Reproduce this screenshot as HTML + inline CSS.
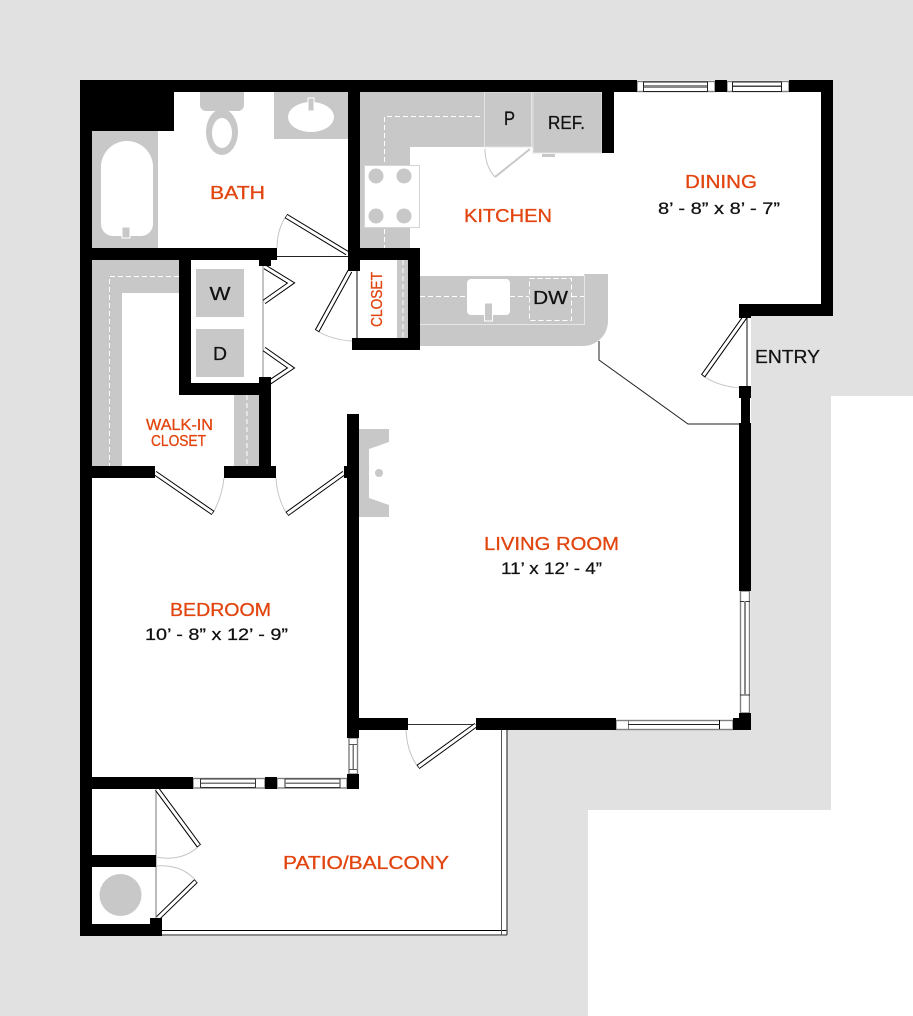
<!DOCTYPE html>
<html><head><meta charset="utf-8"><style>
html,body{margin:0;padding:0;background:#fff}
svg{display:block}
text{font-family:"Liberation Sans",sans-serif}
.o{fill:#e2450f;stroke:#e2450f;stroke-width:.3px;font-size:18px}
.b{fill:#111;stroke:#111;stroke-width:.25px;font-size:17px}
.k{fill:#000}
.g{fill:#c8c8c8}
.dash{stroke:#fff;stroke-width:1;stroke-dasharray:5 3;fill:none}
.arc{stroke:#c4c4c4;stroke-width:1;fill:none}
.db{stroke:#000;stroke-width:5}
.dw{stroke:#fff;stroke-width:3}
.win{fill:#fff;stroke:#808080;stroke-width:1.4}
</style></head><body>
<svg xmlns="http://www.w3.org/2000/svg" width="913" height="1016" viewBox="0 0 913 1016">
<rect width="913" height="1016" fill="#e1e1e1"/>
<rect x="831" y="396" width="82" height="414" fill="#fff"/>
<rect x="588" y="810" width="325" height="206" fill="#fff"/>
<!-- interior -->
<polygon fill="#fff" points="80,80 833,80 833,316 751,316 751,730 507,730 507,936 80,936"/>

<!-- bath fixtures -->
<rect class="g" x="92" y="131" width="66" height="117"/>
<path fill="#fff" d="M101,167a26,26 0 0 1 52,0v57a12,12 0 0 1 -12,12h-28a12,12 0 0 1 -12,-12z"/>
<rect x="122" y="227" width="8" height="11" fill="#c8c8c8" stroke="#fff"/>
<path class="g" d="M200,92h44v13a6,6 0 0 1 -6,6h-32a6,6 0 0 1 -6,-6z"/>
<ellipse class="g" cx="222" cy="132" rx="16" ry="23"/>
<ellipse cx="222" cy="133" rx="10" ry="15" fill="#fff"/>
<rect class="g" x="274" y="92" width="74" height="47"/>
<ellipse cx="311" cy="117" rx="23" ry="15" fill="#fff"/>
<rect x="308" y="98" width="6" height="13" fill="#c8c8c8" stroke="#fff"/>

<!-- kitchen -->
<polygon class="g" points="360,92 602,92 602,147 410,147 410,248 360,248"/>
<path class="dash" d="M480,116.5H384.5V248"/>
<rect class="g" x="484.5" y="92" width="47" height="55" stroke="#e4e4e4"/>
<rect class="g" x="533" y="92" width="69" height="61" stroke="#e4e4e4"/>
<rect x="542" y="154" width="13" height="3" fill="#c8c8c8"/>
<line x1="530" y1="149" x2="495" y2="177" stroke="#c8c8c8" stroke-width="2"/>
<path class="arc" d="M485,149Q485,166 495,177"/>
<rect x="364.500" y="165.500" width="55" height="62" fill="#fff" stroke="#d5d5d5"/>
<g class="g"><circle cx="376" cy="176" r="7.500"/><circle cx="404" cy="176" r="7.500"/><circle cx="376" cy="216" r="7.500"/><circle cx="404" cy="216" r="7.500"/></g>

<!-- closet shelf -->
<rect class="g" x="397" y="260" width="11" height="78"/>
<line class="dash" x1="403" y1="260" x2="403" y2="338"/>

<!-- island counter -->
<path class="g" d="M420,276H584V274H608V321a25,25 0 0 1 -25,25H420z"/>
<path d="M420,324.500H584.500V275" fill="none" stroke="#e6e6e6"/>
<path class="dash" d="M420,296.500H467M510,296.500H529M572,296.500H584"/>
<rect x="467" y="279" width="43" height="36" rx="4" fill="#fff"/>
<rect x="484.500" y="303" width="8" height="18" fill="#c8c8c8" stroke="#fff"/>
<rect class="dash" x="529.500" y="278.500" width="42" height="42"/>

<!-- laundry + walk-in -->
<polygon class="g" points="92,260 179,260 179,293 122,293 122,466 92,466"/>
<rect class="g" x="234" y="395" width="25" height="71"/>
<path class="dash" d="M179,276.500H109.500V466M247,395V466"/>
<rect class="g" x="196" y="269" width="48" height="48"/>
<rect class="g" x="196" y="329" width="48" height="48"/>
<line x1="263" y1="260" x2="263" y2="383" stroke="#8a8a8a"/>

<!-- fireplace + storage circle -->
<polygon class="g" points="359,429 389,429 389,442 369,449 369,498 389,505 389,517 359,517"/>
<circle class="g" cx="379" cy="473" r="4"/>
<circle class="g" cx="120.500" cy="895" r="21"/>

<!-- thin lines -->
<g fill="none">
<line x1="277" y1="256.500" x2="348" y2="256.500" stroke="#222"/>
<line x1="357" y1="271" x2="357" y2="338" stroke="#111"/>
<line x1="747" y1="316" x2="747" y2="387" stroke="#111"/>
<path d="M599,341V360L688,424H741" stroke="#222"/>
<line x1="408" y1="724.500" x2="476" y2="724.500" stroke="#333"/>
<line x1="156" y1="789" x2="156" y2="920" stroke="#777"/>
<path d="M162,930.500H507" stroke="#000"/>
<path d="M162,935H507" stroke="#666" stroke-width="1.4"/>
<path d="M507,730V935" stroke="#555" stroke-width="1.4"/>
<path d="M501.500,730V935" stroke="#555"/>
</g>

<!-- door arcs -->
<g class="arc">
<path d="M277,248Q277,230 286,216"/>
<path d="M317,331Q333,340 352,341"/>
<path d="M213,513Q222,497 224,478"/>
<path d="M287,514Q277,498 276,478"/>
<path d="M703,376Q720,387 741,388"/>
<path d="M418,767Q407,752 406,730"/>
<path d="M199,846Q182,862 156,857"/>
<path d="M196,881Q182,864 156,866"/>
</g>

<!-- door leaves -->
<g class="db">
<line x1="286" y1="216" x2="347" y2="253"/>
<line x1="350" y1="271" x2="317" y2="331"/>
<line x1="155" y1="473" x2="213" y2="513"/>
<line x1="344" y1="473" x2="287" y2="514"/>
<line x1="745" y1="317" x2="703" y2="376"/>
<line x1="476" y1="725" x2="418" y2="767"/>
<line x1="157" y1="789" x2="199" y2="846"/>
<line x1="158" y1="918" x2="196" y2="881"/>
<polyline fill="none" points="265,267 291,283 264,302"/>
<polyline fill="none" points="264,349 291,368 267,384"/>
</g>
<g class="dw">
<line x1="286.500" y1="216.300" x2="347" y2="253"/>
<line x1="350" y1="271" x2="317.400" y2="330.300"/>
<line x1="155" y1="473" x2="212.400" y2="512.600"/>
<line x1="344" y1="473" x2="287.600" y2="513.600"/>
<line x1="745" y1="317" x2="703.500" y2="375.300"/>
<line x1="476" y1="725" x2="418.600" y2="766.600"/>
<line x1="157" y1="789" x2="198.600" y2="845.400"/>
<line x1="158" y1="918" x2="195.500" y2="881.500"/>
<polyline fill="none" points="265,267 291,283 264,302"/>
<polyline fill="none" points="264,349 291,368 267,384"/>
</g>

<!-- windows -->
<g>
<rect class="win" x="637" y="81.500" width="78" height="10"/>
<rect x="643.500" y="82" width="64" height="9.500" fill="#fff" stroke="#222"/><rect x="644" y="85" width="63" height="3" fill="#888"/>
<rect class="win" x="727" y="81.500" width="62" height="10"/>
<rect x="732.500" y="82" width="49" height="9.500" fill="#fff" stroke="#222"/><rect x="733" y="85.500" width="48" height="1.500" fill="#444"/>

<rect class="win" x="740.500" y="591" width="9" height="122"/>
<line x1="740" y1="601.500" x2="750" y2="601.500" stroke="#333"/><line x1="740" y1="695" x2="750" y2="695" stroke="#333"/>
<rect x="744" y="601" width="2" height="94" fill="#888"/>
<rect class="win" x="616" y="720.500" width="117" height="9"/>
<line x1="628.500" y1="720" x2="628.500" y2="729" stroke="#777"/><line x1="719.500" y1="720" x2="719.500" y2="729" stroke="#000"/>
<line x1="628" y1="724.500" x2="720" y2="724.500" stroke="#222"/>

<rect class="win" x="349" y="738" width="8.500" height="36"/>
<line x1="349" y1="744.500" x2="357" y2="744.500" stroke="#555"/><line x1="349" y1="769.500" x2="357" y2="769.500" stroke="#555"/>
<rect x="352.500" y="745" width="1.500" height="24" fill="#777"/>
<rect class="win" x="193" y="778.500" width="72" height="9.500"/>
<rect x="200.500" y="779" width="55" height="8.500" fill="#fff" stroke="#333"/><rect x="201" y="782.500" width="54" height="1.500" fill="#777"/>
<rect class="win" x="277" y="778.500" width="70" height="9.500"/>
<rect x="285" y="779" width="55" height="8.500" fill="#fff" stroke="#333"/><rect x="285" y="782.500" width="55" height="1.500" fill="#777"/>
</g>

<!-- walls -->
<g class="k">
<rect x="80" y="80" width="557" height="12"/>
<rect x="715" y="80" width="12" height="12"/>
<rect x="789" y="80" width="44" height="12"/>
<rect x="821" y="80" width="12" height="236"/>
<rect x="739" y="304" width="94" height="12"/>
<rect x="739" y="304" width="12" height="14"/>
<rect x="80" y="80" width="12" height="856"/>
<rect x="80" y="80" width="94" height="51"/>
<rect x="348" y="92" width="12" height="179"/>
<rect x="92" y="248" width="185" height="12"/>
<rect x="259" y="260" width="12" height="6"/>
<rect x="348" y="248" width="72" height="12"/>
<rect x="408" y="248" width="12" height="102"/>
<rect x="352" y="338" width="68" height="12"/>
<rect x="602" y="92" width="12" height="61"/>
<rect x="179" y="260" width="12" height="135"/>
<rect x="179" y="383" width="92" height="12"/>
<rect x="259" y="377" width="12" height="101"/>
<rect x="92" y="466" width="63" height="12"/>
<rect x="224" y="466" width="52" height="12"/>
<rect x="344" y="466" width="4" height="12"/>
<rect x="347" y="414" width="12" height="324"/>
<rect x="359" y="718" width="49" height="12"/>
<rect x="476" y="718" width="140" height="12"/>
<rect x="739" y="386" width="12" height="12"/>
<rect x="741" y="398" width="9" height="25"/>
<rect x="739" y="423" width="12" height="168"/>
<rect x="739" y="713" width="12" height="6"/>
<rect x="733" y="718" width="18" height="12"/>
<rect x="347" y="774" width="12" height="15"/>
<rect x="92" y="777" width="101" height="12"/>
<rect x="265" y="777" width="12" height="12"/>
<rect x="92" y="855" width="64" height="12"/>
<rect x="80" y="924" width="82" height="12"/>
<rect x="150" y="918" width="12" height="18"/>
</g>

<!-- labels -->
<g>
<text class="o" x="210" y="199" textLength="55" lengthAdjust="spacingAndGlyphs">BATH</text>
<text class="o" x="464" y="222" textLength="88" lengthAdjust="spacingAndGlyphs">KITCHEN</text>
<text class="o" x="685" y="188" textLength="72" lengthAdjust="spacingAndGlyphs">DINING</text>
<text class="b" x="658" y="214" textLength="122" lengthAdjust="spacingAndGlyphs">8’ - 8” x 8’ - 7”</text>
<text class="o" x="484" y="550" textLength="135" lengthAdjust="spacingAndGlyphs">LIVING ROOM</text>
<text class="b" x="501" y="574" textLength="101" lengthAdjust="spacingAndGlyphs">11’ x 12’ - 4”</text>
<text class="o" x="170" y="616" textLength="101" lengthAdjust="spacingAndGlyphs">BEDROOM</text>
<text class="b" x="145" y="640" textLength="143" lengthAdjust="spacingAndGlyphs">10’ - 8” x 12’ - 9”</text>
<text class="o" x="283" y="869" textLength="166" lengthAdjust="spacingAndGlyphs">PATIO/BALCONY</text>
<text class="o" style="font-size:16px" x="146" y="430" textLength="67" lengthAdjust="spacingAndGlyphs">WALK-IN</text>
<text class="o" style="font-size:16px" x="151" y="446" textLength="55" lengthAdjust="spacingAndGlyphs">CLOSET</text>
<text class="o" style="font-size:16px" transform="translate(382,327) rotate(-90)" x="0" y="0" textLength="55" lengthAdjust="spacingAndGlyphs">CLOSET</text>
<text class="b" style="font-size:18px" x="755" y="363" textLength="65" lengthAdjust="spacingAndGlyphs">ENTRY</text>
<text class="b" style="font-size:19px" x="504" y="125" textLength="11" lengthAdjust="spacingAndGlyphs">P</text>
<text class="b" style="font-size:18px" x="548" y="129" textLength="37" lengthAdjust="spacingAndGlyphs">REF.</text>
<text class="b" style="font-size:18px" x="533" y="304" textLength="35" lengthAdjust="spacingAndGlyphs">DW</text>
<text class="b" style="font-size:18px" x="209.500" y="300" textLength="21" lengthAdjust="spacingAndGlyphs">W</text>
<text class="b" style="font-size:18px" x="213" y="360" textLength="14" lengthAdjust="spacingAndGlyphs">D</text>
</g>
</svg>
</body></html>
